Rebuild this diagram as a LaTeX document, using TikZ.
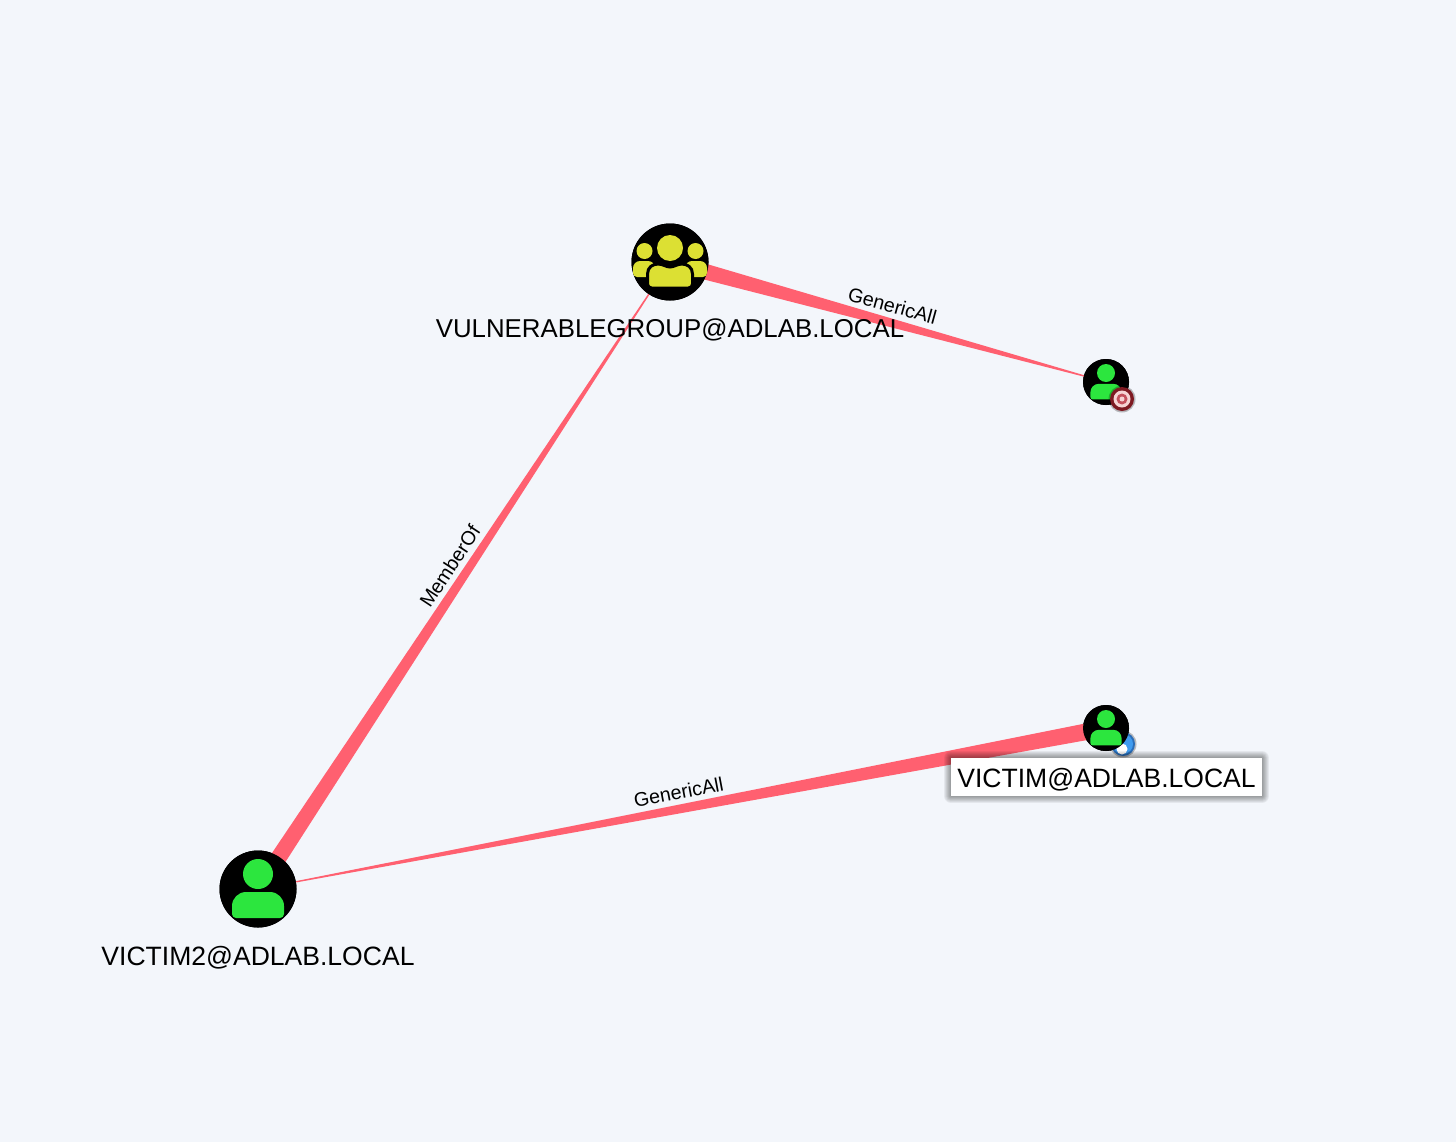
\documentclass[tikz,border=0pt]{standalone}
\usepackage{fontspec}
\setmainfont{Liberation Sans}
\usetikzlibrary{calc}
\definecolor{pagebg}{HTML}{F3F6FB}
\definecolor{edgered}{HTML}{FF6070}
\definecolor{usergreen}{HTML}{2CE63E}
\definecolor{groupyellow}{HTML}{DCE033}
\definecolor{targetdark}{HTML}{7E1A22}
\definecolor{targetmid}{HTML}{C4505C}
\definecolor{targetpale}{HTML}{F6D4D4}
\definecolor{owneddark}{HTML}{2A6DB8}
\definecolor{ownedmid}{HTML}{3F9BEF}
\tikzset{
  big node/.style={circle,fill=black,minimum size=.77cm,inner sep=0pt},
  small node/.style={circle,fill=black,minimum size=.46cm,inner sep=0pt},
  name label/.style={font=\fontsize{7.55pt}{10pt}\selectfont,inner sep=0pt},
  edge label/.style={font=\fontsize{5.6pt}{7pt}\selectfont,inner sep=0pt,sloped,midway,above=.09cm},
  badge/.style={circle,minimum size=.24cm,inner sep=0pt},
  pics/person/.style={code={
    \fill[usergreen] (0,.15) circle (.15);
    \fill[usergreen] (-.26,-.25) -- (-.26,-.17) arc (180:90:.14) -- (.12,-.03) arc (90:0:.14)
      -- (.26,-.25) arc (0:-90:.04) -- (-.22,-.29) arc (270:180:.04) -- cycle;
  }},
  pics/people/.style={code={
    \fill[groupyellow] (-.255,.11) circle (.08);
    \fill[groupyellow] (.255,.11) circle (.08);
    \fill[groupyellow] (-.37,-.11) -- (-.37,-.06) arc (180:90:.07) -- (-.22,.01) arc (90:0:.07)
      -- (-.15,-.15) -- (-.33,-.15) arc (270:180:.04) -- cycle;
    \fill[groupyellow] (.37,-.11) -- (.37,-.06) arc (0:90:.07) -- (.22,.01) arc (90:180:.07)
      -- (.15,-.15) -- (.33,-.15) arc (-90:0:.04) -- cycle;
    \fill[groupyellow] (0,.14) circle (.13);
    \filldraw[groupyellow,draw=black,line width=.03cm] (-.225,-.22) -- (-.225,-.12)
      .. controls (-.225,-.05) and (-.17,-.02) .. (-.12,-.02)
      .. controls (-.07,-.02) and (-.04,-.05) .. (0,-.05)
      .. controls (.04,-.05) and (.07,-.02) .. (.12,-.02)
      .. controls (.17,-.02) and (.225,-.05) .. (.225,-.12)
      -- (.225,-.22) arc (0:-90:.04) -- (-.185,-.26) arc (270:180:.04) -- cycle;
  }},
}
% wide at #1, narrows to a hairline at #2
\newcommand{\taperedge}[3]{\fill[edgered] ($(#1)!#3!90:(#2)$) -- ($(#1)!#3!-90:(#2)$)
  -- ($(#2)!.003cm!90:(#1)$) -- ($(#2)!.003cm!-90:(#1)$) -- cycle;}
\begin{document}
\begin{tikzpicture}
\useasboundingbox[fill=pagebg] (0,0) rectangle (14.56,11.42);
\begin{scope}
\node[big node] (v1) at (6.70,8.80) {};
\node[small node] (v2) at (11.06,7.60) {};
\node[small node] (v3) at (11.06,4.14) {};
\node[big node] (v4) at (2.58,2.53) {};
\coordinate (c1) at (11.23,3.98);
\coordinate (c2) at (11.22,7.43);
\end{scope}
\begin{scope}
\taperedge{v4}{v1}{.085cm}
\taperedge{v1}{v2}{.085cm}
\taperedge{v3}{v4}{.085cm}
\path (v4) -- (v1) node[edge label] (l1) {MemberOf};
\path (v1) -- (v2) node[edge label,pos=.48] (l2) {GenericAll};
\path (v4) -- (v3) node[edge label,pos=.49] (l3) {GenericAll};
\end{scope}
% blue badge goes under its node
\fill[black,opacity=.25] (c1) circle (.135);
\node[badge,fill=owneddark] (b1) at (c1) {};
\node[badge,fill=ownedmid,minimum size=.20cm] at (c1) {};
\node[badge,fill=white,minimum size=.11cm] at ($(c1)+(-.01,-.05)$) {};
\node[big node] at (v1) {};
\pic at (v1) {people};
\node[small node] at (v2) {};
\pic[scale=.6] at (v2) {person};
\node[small node] at (v3) {};
\pic[scale=.6] at (v3) {person};
\node[big node] at (v4) {};
\pic at (v4) {person};
% target badge sits on top
\fill[black,opacity=.25] (c2) circle (.135);
\node[badge,fill=targetdark] (b2) at (c2) {};
\node[badge,fill=targetpale,minimum size=.17cm] at (c2) {};
\node[badge,fill=targetmid,minimum size=.11cm] at (c2) {};
\node[badge,fill=targetpale,minimum size=.05cm] at (c2) {};
\node[name label,font=\fontsize{7.35pt}{10pt}\selectfont] (n1) at (6.70,8.12) {VULNERABLEGROUP@ADLAB.LOCAL};
\node[name label] (n4) at (2.58,1.84) {VICTIM2@ADLAB.LOCAL};
% hovered label: soft shadow, then white box
\coordinate (sw) at (9.51,3.46);
\coordinate (ne) at (12.62,3.84);
\foreach \w in {.14,.12,.10,.08,.06,.04,.02}
  \draw[black,opacity=.06,line width=\w cm,line join=round] (sw) rectangle (ne);
\fill[white] (sw) rectangle (ne);
\node[name label] (n3) at ($(sw)!.5!(ne)+(0,-.03)$) {VICTIM@ADLAB.LOCAL};
\end{tikzpicture}
\end{document}
